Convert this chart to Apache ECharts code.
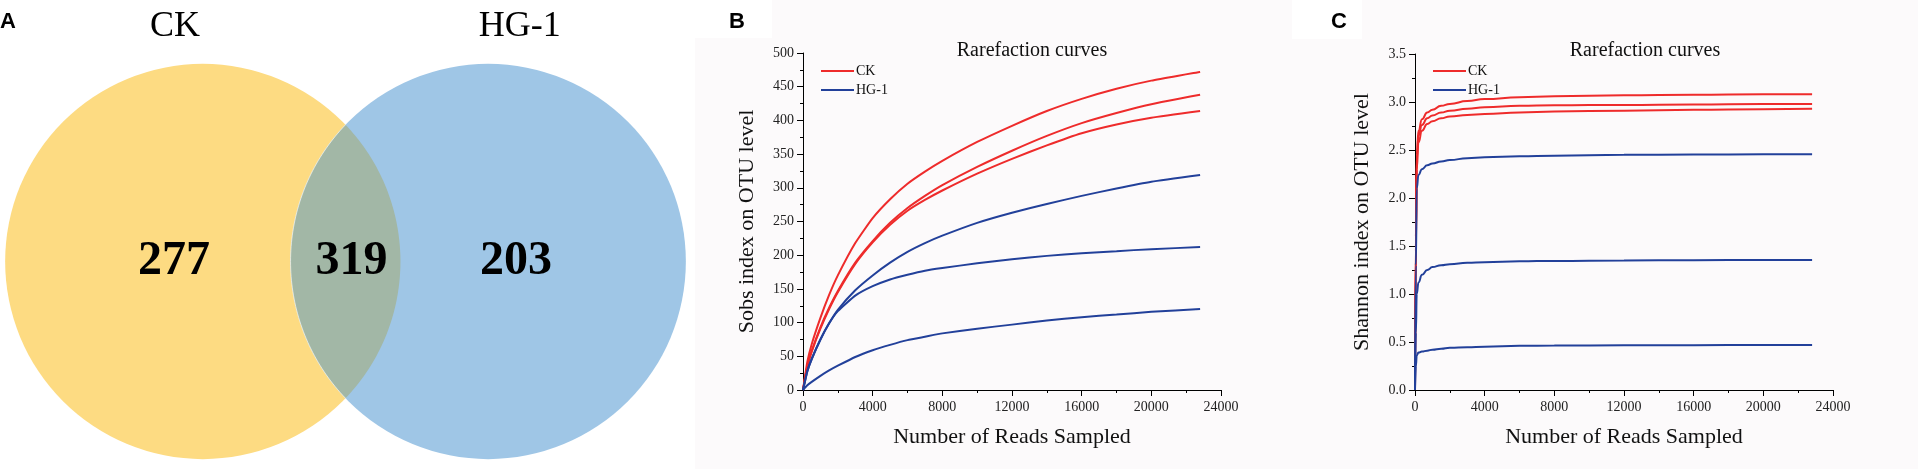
<!DOCTYPE html>
<html><head><meta charset="utf-8">
<script src="https://cdn.jsdelivr.net/npm/echarts@6/dist/echarts.min.js"></script>
<style>html,body{margin:0;padding:0;background:#fff}#c{width:1918px;height:469px}</style>
</head><body><div id="c"></div>
<script>
// ---------- Data ----------
const vennSets = ['CK', 'HG-1'];
const vennCounts = [277, 319, 203]; // CK only, shared, HG-1 only
const vennDistance = 1.443;          // centre distance in radius units

const groupNames = ['CK', 'CK', 'CK', 'HG-1', 'HG-1', 'HG-1'];

const readsB = [0, 250, 500, 1000, 1500, 2000, 3000, 4000, 5000, 6000, 7000, 8000, 10000, 12000, 14000, 16000, 18000, 20000, 22800];
const sobsCK1 = [0, 42, 68, 107, 141, 170, 218, 255, 283, 306, 324, 340, 368, 392, 414, 432, 447, 459, 472];
const sobsCK2 = [0, 36, 58, 93, 122, 147, 189, 221, 248, 270, 288, 304, 331, 355, 377, 396, 411, 424, 438];
const sobsCK3 = [0, 35, 57, 91, 120, 145, 187, 219, 245, 266, 282, 296, 321, 343, 363, 381, 394, 404, 414];
const sobsHG1 = [0, 28, 46, 75, 99, 119, 148, 170, 189, 205, 218, 229, 248, 263, 276, 288, 299, 309, 319];
const sobsHG2 = [0, 28, 46, 75, 99, 117, 140, 154, 164, 171, 177, 181, 188, 194, 199, 203, 206, 209, 212];
const sobsHG3 = [0, 7, 12, 21, 29, 36, 49, 59, 67, 74, 79, 84, 91, 97, 103, 108, 112, 116, 120];

const readsC = [0, 50, 100, 200, 400, 700, 1000, 1500, 2000, 3000, 4000, 6000, 8000, 12000, 16000, 20000, 22800];
const shanCK1 = [0, 1.6, 2.45, 2.7, 2.82, 2.89, 2.92, 2.96, 2.98, 3.01, 3.03, 3.05, 3.06, 3.07, 3.075, 3.08, 3.08];
const shanCK2 = [0, 1.5, 2.4, 2.65, 2.76, 2.83, 2.86, 2.89, 2.91, 2.93, 2.945, 2.96, 2.965, 2.97, 2.975, 2.98, 2.98];
const shanCK3 = [0, 1.45, 2.3, 2.58, 2.7, 2.77, 2.80, 2.83, 2.85, 2.865, 2.875, 2.89, 2.9, 2.91, 2.92, 2.925, 2.93];
const shanHG1 = [0, 1.3, 2.1, 2.24, 2.3, 2.34, 2.36, 2.38, 2.395, 2.415, 2.425, 2.435, 2.44, 2.45, 2.452, 2.455, 2.455];
const shanHG2 = [0, 0.6, 1.0, 1.12, 1.2, 1.25, 1.28, 1.3, 1.31, 1.325, 1.33, 1.34, 1.345, 1.35, 1.352, 1.354, 1.355];
const shanHG3 = [0, 0.25, 0.36, 0.39, 0.4, 0.41, 0.42, 0.43, 0.44, 0.445, 0.45, 0.46, 0.463, 0.465, 0.467, 0.47, 0.47];

const xTicks = [0, 4000, 8000, 12000, 16000, 20000, 24000];

// ---------- Styles ----------
const SERIF = 'Liberation Serif';
const RED = '#EE2B2B', BLUE = '#22409A';
const colorOf = n => n === 'CK' ? RED : BLUE;

const zip = (xs, ys) => xs.map((x, i) => [x, ys[i]]);

function lineSeries(name, xs, ys, idx, smoothCfg) {
  return Object.assign({
    type: 'line', name, xAxisIndex: idx, yAxisIndex: idx,
    data: zip(xs, ys), symbol: 'none', showSymbol: false,
    lineStyle: { color: colorOf(name), width: 2 }, itemStyle: { color: colorOf(name) },
    silent: true
  }, smoothCfg);
}

function renderVenn(params, api) {
  const c1 = api.coord([0, 0]);
  const c2 = api.coord([vennDistance, 0]);
  const sz = api.size([1, 1]);
  const r = (sz[0] + sz[1]) / 2;
  const D = c2[0] - c1[0];
  const a = Math.acos((D / 2) / r);
  const lens = [], leftArc = [];
  const N = 80;
  for (let i = 0; i <= N; i++) {
    const t = -a + 2 * a * i / N;
    lens.push([c1[0] + r * Math.cos(t), c1[1] + r * Math.sin(t)]);
  }
  for (let i = 0; i <= N; i++) {
    const t = Math.PI - a + 2 * a * i / N;
    const p = [c2[0] + r * Math.cos(t), c2[1] + r * Math.sin(t)];
    lens.push(p); leftArc.push(p);
  }
  const txt = (x, y, text, size, weight) => ({
    type: 'text', x, y,
    style: { text, fontSize: size, fontFamily: SERIF, fontWeight: weight, fill: '#000', align: 'center', verticalAlign: 'middle' }
  });
  const onlyL = api.coord([-0.146, 0]), shared = api.coord([vennDistance / 2 + 0.03, 0]), onlyR = api.coord([vennDistance + 0.14, 0]);
  const nameL = api.coord([-0.14, 1.19]), nameR = api.coord([vennDistance + 0.16, 1.19]);
  return {
    type: 'group',
    children: [
      { type: 'circle', shape: { cx: c1[0], cy: c1[1], r }, style: { fill: '#FDDB82' } },
      { type: 'circle', shape: { cx: c2[0], cy: c2[1], r }, style: { fill: '#9FC6E6' } },
      { type: 'polygon', shape: { points: lens }, style: { fill: '#A2B7A6' } },
      { type: 'polyline', shape: { points: leftArc }, style: { stroke: 'rgba(255,255,255,0.6)', lineWidth: 1, fill: null } },
      txt(onlyL[0], onlyL[1], String(vennCounts[0]), 48, 'bold'),
      txt(shared[0], shared[1], String(vennCounts[1]), 48, 'bold'),
      txt(onlyR[0], onlyR[1], String(vennCounts[2]), 48, 'bold'),
      txt(nameL[0], nameL[1], vennSets[0], 36, 'normal'),
      txt(nameR[0], nameR[1], vennSets[1], 36, 'normal')
    ]
  };
}

const axisLabelStyle = { fontFamily: SERIF, fontSize: 14, color: '#222' };
function xAxisCfg(gi) {
  return {
    type: 'value', gridIndex: gi, min: 0, max: 24000, interval: 4000,
    name: 'Number of Reads Sampled', nameLocation: 'middle', nameGap: 36,
    nameTextStyle: { fontFamily: SERIF, fontSize: 22, color: '#111' },
    axisLine: { show: true, onZero: false, lineStyle: { color: '#000', width: 1 } },
    axisTick: { show: true, inside: false, length: 6, lineStyle: { color: '#000' } },
    minorTick: { show: true, splitNumber: 2, length: 3, lineStyle: { color: '#000' } },
    splitLine: { show: false },
    axisLabel: Object.assign({ margin: 10, formatter: v => xTicks.includes(v) ? String(v) : '' }, axisLabelStyle)
  };
}
function yAxisCfg(gi, max, interval, name, gap, fmt) {
  return {
    type: 'value', gridIndex: gi, min: 0, max, interval,
    name, nameLocation: 'middle', nameGap: gap,
    nameTextStyle: { fontFamily: SERIF, fontSize: 22, color: '#111' },
    axisLine: { show: true, onZero: false, lineStyle: { color: '#000', width: 1 } },
    axisTick: { show: true, inside: false, length: 6, lineStyle: { color: '#000' } },
    minorTick: { show: true, splitNumber: 2, length: 3, lineStyle: { color: '#000' } },
    splitLine: { show: false },
    axisLabel: Object.assign({ margin: 9, formatter: fmt }, axisLabelStyle)
  };
}
function legendCfg(left, top) {
  return {
    data: [{ name: 'CK', icon: 'rect' }, { name: 'HG-1', icon: 'rect' }],
    orient: 'vertical', left, top, itemWidth: 33, itemHeight: 2, itemGap: 5,
    selectedMode: false, textStyle: { fontFamily: SERIF, fontSize: 14, color: '#111', padding: [0, 0, 0, -3] }
  };
}

const smoothB = { smooth: 0.15 };
const smoothC = { smooth: true, smoothMonotone: 'x' };

const option = {
  animation: false,
  backgroundColor: '#fff',
  graphic: [
    { type: 'rect', z: -100, shape: { x: 695, y: 0, width: 597, height: 469 }, style: { fill: '#FCFAFB' } },
    { type: 'rect', z: -100, shape: { x: 1292, y: 0, width: 626, height: 469 }, style: { fill: '#FCFAFB' } },
    { type: 'rect', z: -99, shape: { x: 690, y: 0, width: 82, height: 38 }, style: { fill: '#fff' } },
    { type: 'rect', z: -99, shape: { x: 1292, y: 0, width: 70, height: 39 }, style: { fill: '#fff' } },
    { type: 'text', left: 0, top: 11, style: { text: 'A', font: 'bold 22px "Liberation Sans"', fill: '#000' } },
    { type: 'text', left: 729, top: 11, style: { text: 'B', font: 'bold 22px "Liberation Sans"', fill: '#000' } },
    { type: 'text', left: 1331, top: 11, style: { text: 'C', font: 'bold 22px "Liberation Sans"', fill: '#000' } }
  ],
  title: [
    { text: 'Rarefaction curves', left: 1027, top: 36, textAlign: 'center', textStyle: { fontFamily: SERIF, fontSize: 20, fontWeight: 'normal', color: '#111' } },
    { text: 'Rarefaction curves', left: 1640, top: 36, textAlign: 'center', textStyle: { fontFamily: SERIF, fontSize: 20, fontWeight: 'normal', color: '#111' } }
  ],
  legend: [legendCfg(816, 59), legendCfg(1428, 59)],
  grid: [
    { left: 5, top: 64, width: 681, height: 395 },
    { left: 803, top: 53, width: 418, height: 337 },
    { left: 1415, top: 54, width: 418, height: 336 }
  ],
  xAxis: [
    { type: 'value', gridIndex: 0, min: -1, max: 1 + vennDistance, show: false },
    xAxisCfg(1), xAxisCfg(2)
  ],
  yAxis: [
    { type: 'value', gridIndex: 0, min: -1, max: 1, show: false },
    yAxisCfg(1, 500, 50, 'Sobs index on OTU level', 45, v => String(v)),
    yAxisCfg(2, 3.5, 0.5, 'Shannon index on OTU level', 42, v => v.toFixed(1))
  ],
  series: [
    { type: 'custom', name: 'Venn', xAxisIndex: 0, yAxisIndex: 0, data: [[0, 0]], renderItem: renderVenn, clip: false, silent: true },
    lineSeries(groupNames[0], readsB, sobsCK1, 1, smoothB),
    lineSeries(groupNames[1], readsB, sobsCK2, 1, smoothB),
    lineSeries(groupNames[2], readsB, sobsCK3, 1, smoothB),
    lineSeries(groupNames[3], readsB, sobsHG1, 1, smoothB),
    lineSeries(groupNames[4], readsB, sobsHG2, 1, smoothB),
    lineSeries(groupNames[5], readsB, sobsHG3, 1, smoothB),
    lineSeries(groupNames[0], readsC, shanCK1, 2, smoothC),
    lineSeries(groupNames[1], readsC, shanCK2, 2, smoothC),
    lineSeries(groupNames[2], readsC, shanCK3, 2, smoothC),
    lineSeries(groupNames[3], readsC, shanHG1, 2, smoothC),
    lineSeries(groupNames[4], readsC, shanHG2, 2, smoothC),
    lineSeries(groupNames[5], readsC, shanHG3, 2, smoothC)
  ]
};
echarts.init(document.getElementById('c'), null, { renderer: 'canvas' }).setOption(option);
</script></body></html>
